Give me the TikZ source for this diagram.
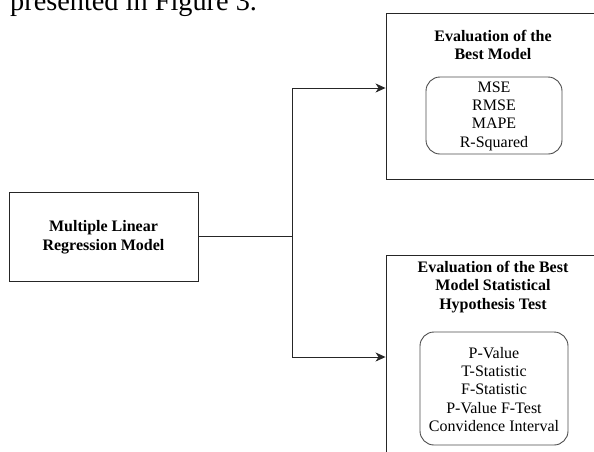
\documentclass[tikz,border=0pt]{standalone}
\usepackage{fontspec}
\setmainfont{Liberation Serif}
\usetikzlibrary{arrows.meta}
\begin{document}
\begin{tikzpicture}[x=1pt,y=-1pt,
  frame/.style={draw=black!85, line width=0.9pt, inner sep=0pt},
  inner/.style={draw=black!70, line width=0.9pt, rounded corners=14pt, inner sep=0pt},
  title/.style={align=center, inner sep=0pt, font=\bfseries\fontsize{16}{18.5}\selectfont},
  items/.style={align=center, inner sep=0pt, font=\fontsize{16}{18.3}\selectfont},
  conn/.style={draw=black!85, line width=0.9pt},
  arr/.style={conn, -{Stealth[length=10pt,width=9pt,inset=3pt]}}]
\useasboundingbox (0,0) rectangle (594,451);
\clip (0,0) rectangle (594,451);
% page text above the figure
\node[anchor=base west, inner sep=0pt, font=\fontsize{28.3}{30}\selectfont] (cap) at (10,10.5) {presented in Figure 3.};
% left box
\node[frame, minimum width=189pt, minimum height=89pt] (mlr) at (103.5,236.5) {};
\node[title] (mlrtext) at (103.5,237) {Multiple Linear\\Regression Model};
% top right box
\node[frame, minimum width=264pt, minimum height=166pt] (best) at (518,96) {};
\node[title] (besttitle) at (493,45) {Evaluation of the\\Best Model};
\node[inner, minimum width=136pt, minimum height=77pt] (bestin) at (494,115.5) {};
\node[items] (bestitems) at (494,116) {MSE\\RMSE\\MAPE\\R-Squared};
% bottom right box
\node[frame, minimum width=264pt, minimum height=260pt] (hyp) at (518,385) {};
\node[title] (hyptitle) at (493,287) {Evaluation of the Best\\Model Statistical\\Hypothesis Test};
\node[inner, minimum width=148pt, minimum height=113pt] (hypin) at (494,388.5) {};
\node[items] (hypitems) at (494,389.5) {P-Value\\T-Statistic\\F-Statistic\\P-Value F-Test\\Convidence Interval};
% connectors
\coordinate (j) at (292,236.5);
\coordinate (topin) at (best.west |- 0,88);
\coordinate (botin) at (hyp.west |- 0,357);
\draw[conn] (mlr.east) -- (j);
\draw[arr] (j) |- (topin);
\draw[arr] (j) |- (botin);
\end{tikzpicture}
\end{document}
